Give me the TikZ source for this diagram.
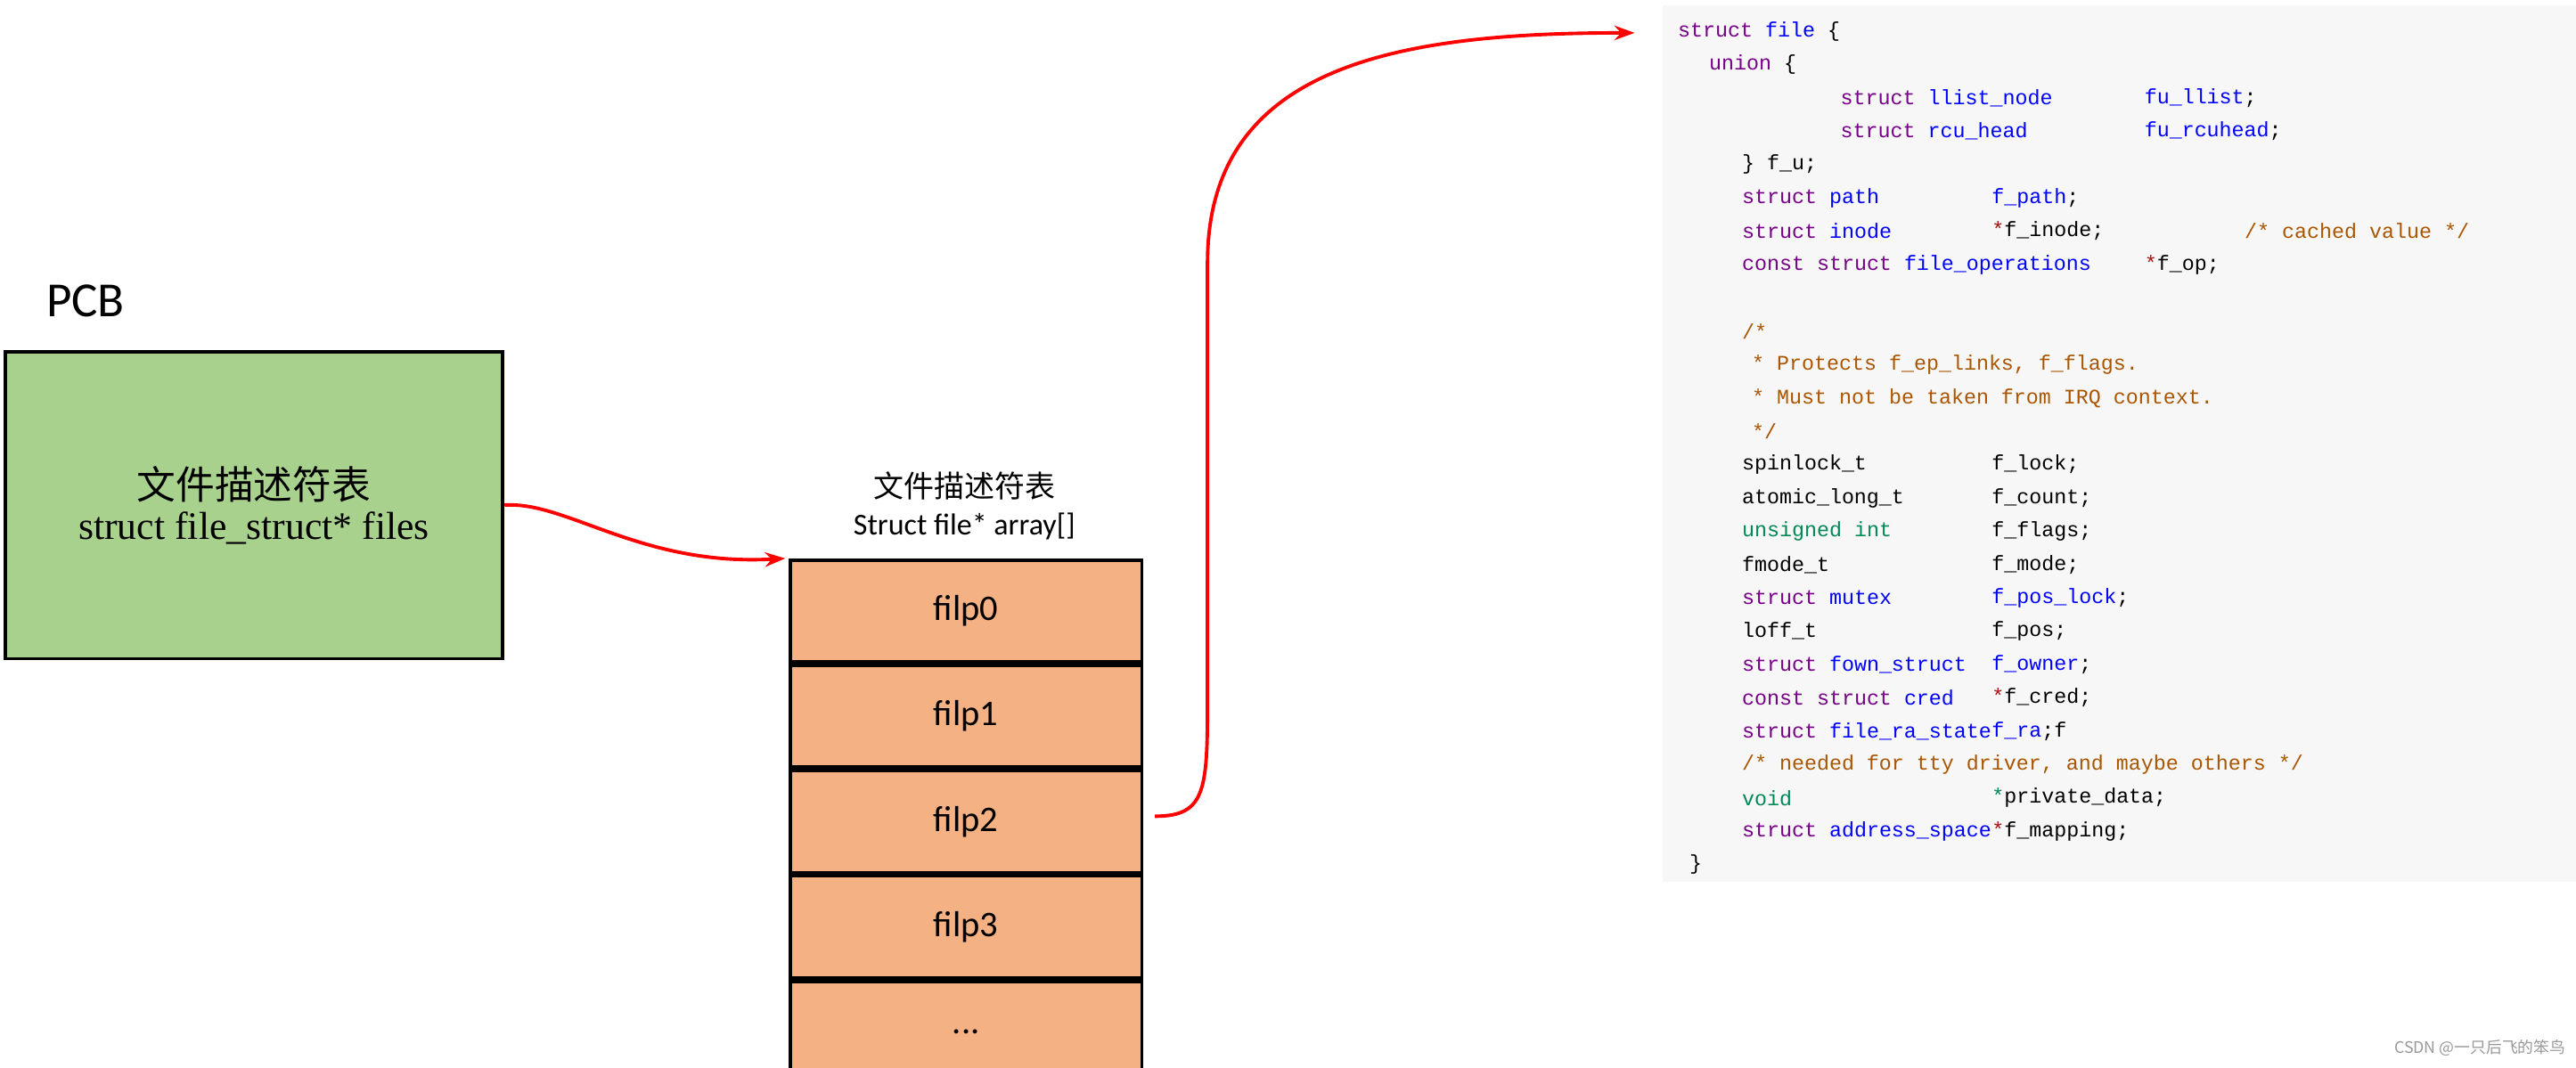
\documentclass[tikz,border=0pt]{standalone}
\usepackage{fontspec}
\setmainfont{Carlito}
\newfontfamily\serif{Liberation Serif}
\newfontfamily\mono{Liberation Mono}
\newfontfamily\cjk{Noto Sans CJK SC}
\usetikzlibrary{arrows.meta}
\definecolor{kw}{HTML}{770088}
\definecolor{ty}{HTML}{0000FF}
\definecolor{bi}{HTML}{008855}
\definecolor{cm}{HTML}{AA5500}
\definecolor{op}{HTML}{AA1111}
\newcommand{\K}[1]{\textcolor{kw}{#1}}
\newcommand{\T}[1]{\textcolor{ty}{#1}}
\newcommand{\G}[1]{\textcolor{bi}{#1}}
\newcommand{\C}[1]{\textcolor{cm}{#1}}
\newcommand{\Op}[1]{\textcolor{op}{#1}}
\begin{document}
\begin{tikzpicture}[x=0.02cm,y=-0.02cm,
  code/.style={anchor=west,inner sep=0pt,font=\mono\fontsize{7.2}{8}\selectfont},
  cell/.style={draw=black,line width=1.2pt,fill=arr,minimum width=214*0.02cm,minimum height=62*0.02cm,inner sep=0pt,font=\fontsize{12.5}{14}\selectfont},
  link/.style={draw=red,line width=1.2pt,-{Stealth[length=7pt,width=5pt]}}]
\definecolor{arr}{HTML}{F4B183}
\definecolor{grn}{HTML}{A9D18E}
\useasboundingbox (0,0) rectangle (1568,650);
\fill[white] (0,0) rectangle (1568,650);
% code panel
\fill[black!3] (1012,3) rectangle (1568,537);
% PCB
\node[anchor=west,font=\fontsize{17}{20}\selectfont] (pcbl) at (22,183) {PCB};
\node[draw=black,line width=1.2pt,fill=grn,minimum width=303*0.02cm,minimum height=187*0.02cm,anchor=north west,align=center,inner sep=0pt] (pcb) at (2,213)
 {{\cjk\fontsize{13.5}{16}\selectfont 文件描述符表}\\[2pt]{\serif\fontsize{13.5}{16}\selectfont struct file\_struct* files}};
% array label
\node[align=center,inner sep=0pt,font=\fontsize{10.5}{13}\selectfont] (albl) at (587,308) {{\cjk 文件描述符表}\\Struct file* array[]};
% array cells
\node[cell,anchor=north west] (f0) at (480,340) {filp0};
\node[cell,anchor=north] (f1) at (f0.south) {filp1};
\node[cell,anchor=north] (f2) at (f1.south) {filp2};
\node[cell,anchor=north] (f3) at (f2.south) {filp3};
\node[cell,anchor=north] (f4) at (f3.south) {...};
% connectors
\coordinate (t1) at (478,340);
\coordinate (s2) at (703,497);
\coordinate (t2) at (995,20);
\draw[link] (pcb.east) .. controls (345,305) and (390,345) .. (t1);
\draw[link] (s2) .. controls (735,497) and (735,480) .. (735,420) -- (735,160) .. controls (735,40) and (850,20) .. (t2);
% code
\def\ly#1{(19+#1*20.3)}
\node[code] (c0) at (1021,19) {\K{struct} \T{file} \{};
\node[code] (c1) at (1040,39.3) {\K{union} \{};
\node[code] (c2) at (1120,59.6) {\K{struct} \T{llist\_node}};
\node[code] (c2b) at (1305,59.6) {\T{fu\_llist};};
\node[code] (c3) at (1120,79.9) {\K{struct} \T{rcu\_head}};
\node[code] (c3b) at (1305,79.9) {\T{fu\_rcuhead};};
\node[code] (c4) at (1060,100.2) {\} f\_u;};
\node[code] (c5) at (1060,120.5) {\K{struct} \T{path}};
\node[code] (c5b) at (1212,120.5) {\T{f\_path};};
\node[code] (c6) at (1060,140.8) {\K{struct} \T{inode}};
\node[code] (c6b) at (1212,140.8) {\Op{*}f\_inode;};
\node[code] (c6c) at (1366,140.8) {\C{/* cached value */}};
\node[code] (c7) at (1060,161.1) {\K{const} \K{struct} \T{file\_operations}};
\node[code] (c7b) at (1305,161.1) {\Op{*}f\_op;};
\node[code] (c9) at (1060,201.7) {\C{/*}};
\node[code] (c10) at (1066,222) {\C{* Protects f\_ep\_links, f\_flags.}};
\node[code] (c11) at (1066,242.3) {\C{* Must not be taken from IRQ context.}};
\node[code] (c12) at (1066,262.6) {\C{*/}};
\node[code] (c13) at (1060,282.9) {spinlock\_t};
\node[code] (c13b) at (1212,282.9) {f\_lock;};
\node[code] (c14) at (1060,303.2) {atomic\_long\_t};
\node[code] (c14b) at (1212,303.2) {f\_count;};
\node[code] (c15) at (1060,323.5) {\G{unsigned} \G{int}};
\node[code] (c15b) at (1212,323.5) {f\_flags;};
\node[code] (c16) at (1060,343.8) {fmode\_t};
\node[code] (c16b) at (1212,343.8) {f\_mode;};
\node[code] (c17) at (1060,364.1) {\K{struct} \T{mutex}};
\node[code] (c17b) at (1212,364.1) {\T{f\_pos\_lock};};
\node[code] (c18) at (1060,384.4) {loff\_t};
\node[code] (c18b) at (1212,384.4) {f\_pos;};
\node[code] (c19) at (1060,404.7) {\K{struct} \T{fown\_struct}};
\node[code] (c19b) at (1212,404.7) {\T{f\_owner};};
\node[code] (c20) at (1060,425) {\K{const} \K{struct} \T{cred}};
\node[code] (c20b) at (1212,425) {\Op{*}f\_cred;};
\node[code] (c21) at (1060,445.3) {\K{struct} \T{file\_ra\_state}};
\node[code] (c21b) at (1212,445.3) {\T{f\_ra};f};
\node[code] (c22) at (1060,465.6) {\C{/* needed for tty driver, and maybe others */}};
\node[code] (c23) at (1060,485.9) {\G{void}};
\node[code] (c23b) at (1212,485.9) {\G{*}private\_data;};
\node[code] (c24) at (1060,506.2) {\K{struct} \T{address\_space}};
\node[code] (c24b) at (1212,506.2) {\Op{*}f\_mapping;};
\node[code] (c25) at (1028,526.5) {\}};
% watermark
\node[anchor=east,inner sep=0pt,text=black!40,font=\cjk\fontsize{5.5}{7}\selectfont] (wm) at (1562,638) {CSDN @一只后飞的笨鸟};
\end{tikzpicture}
\end{document}
